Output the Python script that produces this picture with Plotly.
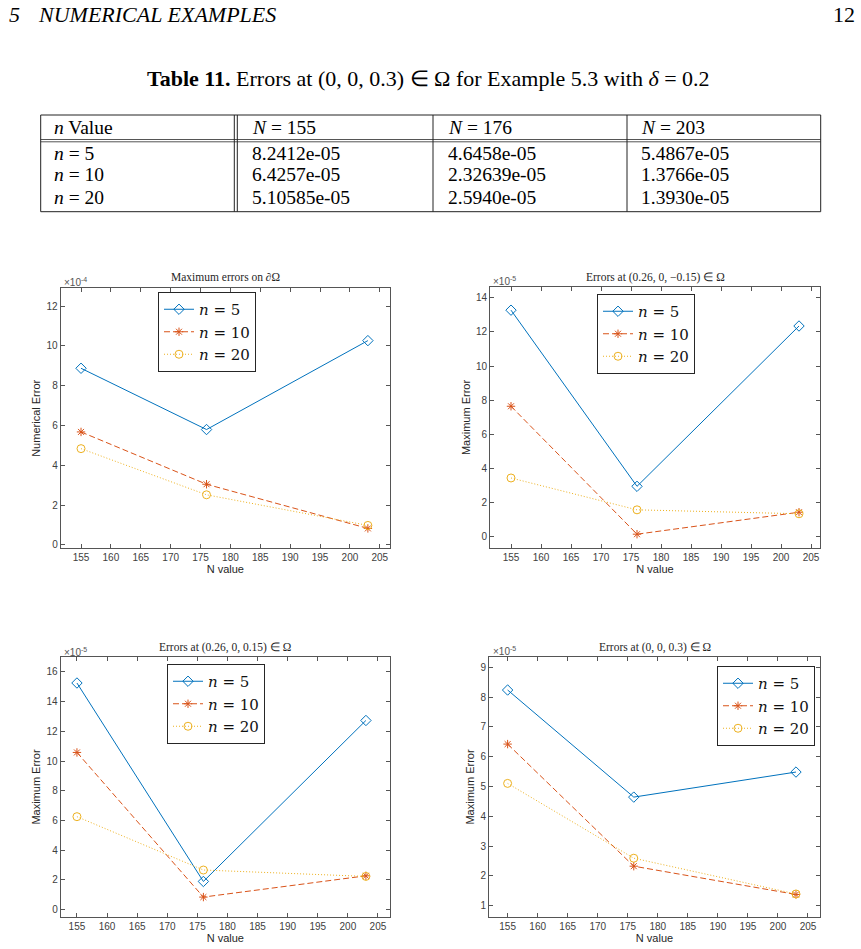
import plotly.graph_objects as go

W, H = 861, 949

# table 11: errors at (0, 0, 0.3)
table_cols = ["<i>n</i> Value", "<i>N</i> = 155", "<i>N</i> = 176", "<i>N</i> = 203"]
table_rows = ["<i>n</i> = 5", "<i>n</i> = 10", "<i>n</i> = 20"]
table_n5 = ["8.2412e-05", "4.6458e-05", "5.4867e-05"]
table_n10 = ["6.4257e-05", "2.32639e-05", "1.3766e-05"]
table_n20 = ["5.10585e-05", "2.5940e-05", "1.3930e-05"]

N_values = [155, 176, 203]
series_names = ["<i>n</i> = 5", "<i>n</i> = 10", "<i>n</i> = 20"]

# maximum errors on boundary (x 1e-4)
bnd_n5 = [8.88, 5.80, 10.27]
bnd_n10 = [5.68, 3.05, 0.83]
bnd_n20 = [4.84, 2.52, 0.98]

# errors at (0.26, 0, -0.15) (x 1e-5)
p1_n5 = [13.28, 2.94, 12.35]
p1_n10 = [7.64, 0.13, 1.42]
p1_n20 = [3.43, 1.56, 1.33]

# errors at (0.26, 0, 0.15) (x 1e-5)
p2_n5 = [15.25, 1.90, 12.73]
p2_n10 = [10.58, 0.85, 2.28]
p2_n20 = [6.26, 2.67, 2.24]

# errors at (0, 0, 0.3) (x 1e-5), same numbers as the table
p3_n5 = [float(s) * 1e5 for s in table_n5]
p3_n10 = [float(s) * 1e5 for s in table_n10]
p3_n20 = [float(s) * 1e5 for s in table_n20]

x_ticks = [155, 160, 165, 170, 175, 180, 185, 190, 195, 200, 205]

SERIF = "Liberation Serif, Times New Roman, serif"
SANS = "Liberation Sans, Arial, sans-serif"
colors = ["#0072BD", "#D95319", "#EDB120"]
symbols = ["diamond-open", "asterisk-open", "circle-open"]
dashes = ["solid", "6px,3px", "1px,2px"]


def px(x):
    return x / W


def py(y):
    return 1 - y / H


def note(text, x, y, size, family=SERIF, color="black", xanchor="left"):
    return dict(text=text, x=px(x), y=py(y), xref="paper", yref="paper",
                xanchor=xanchor, yanchor="middle", showarrow=False,
                font=dict(family=family, size=size, color=color))


panels = [
    dict(box=(60.7, 390, 288.3, 548.3), xr=[151.6, 206.7], yr=[-0.17, 12.9],
         yt=list(range(0, 13, 2)), data=[bnd_n5, bnd_n10, bnd_n20],
         title="Maximum errors on ∂Ω", ylab="Numerical Error", exp="-4",
         legend=(158, 292), exp_pos=(62, 282), title_y=277),
    dict(box=(490, 820, 287, 548), xr=[151.5, 206.5], yr=[-0.68, 14.64],
         yt=list(range(0, 15, 2)), data=[p1_n5, p1_n10, p1_n20],
         title="Errors at (0.26, 0, −0.15) ∈ Ω", ylab="Maximum Error", exp="-5",
         legend=(597, 294), exp_pos=(491, 281), title_y=277),
    dict(box=(60.7, 390, 657, 917), xr=[152.3, 207.0], yr=[-0.49, 17.0],
         yt=list(range(0, 17, 2)), data=[p2_n5, p2_n10, p2_n20],
         title="Errors at (0.26, 0, 0.15) ∈ Ω", ylab="Maximum Error", exp="-5",
         legend=(167, 664), exp_pos=(62, 652), title_y=647),
    dict(box=(489, 820, 657, 917), xr=[151.9, 207.0], yr=[0.62, 9.35],
         yt=list(range(1, 10)), data=[p3_n5, p3_n10, p3_n20],
         title="Errors at (0, 0, 0.3) ∈ Ω", ylab="Maximum Error", exp="-5",
         legend=(717, 666), exp_pos=(491, 651), title_y=647),
]

fig = go.Figure()
annotations = []
shapes = []
layout = {}

for i, p in enumerate(panels):
    k = "" if i == 0 else str(i + 1)
    lg = "legend" if i == 0 else f"legend{i + 1}"
    for j in range(3):
        fig.add_trace(go.Scatter(
            x=N_values, y=p["data"][j], name=series_names[j],
            mode="lines+markers", xaxis="x" + k, yaxis="y" + k, legend=lg,
            line=dict(color=colors[j], width=1, dash=dashes[j]),
            marker=dict(symbol=symbols[j], size=8 if j != 1 else 7,
                        color=colors[j], line=dict(width=1, color=colors[j])),
        ))
    x0, x1, y0, y1 = p["box"]
    axis_common = dict(showline=True, linecolor="#555", linewidth=1, mirror="ticks",
                       ticks="inside", ticklen=4, tickcolor="#555", showgrid=False,
                       zeroline=False, automargin=False,
                       tickfont=dict(family=SANS, size=10, color="#404040"))
    layout["xaxis" + k] = dict(
        axis_common, domain=[px(x0), px(x1)], range=p["xr"], tickvals=x_ticks,
        anchor="y" + k,
        title=dict(text="N value", standoff=0, font=dict(family=SANS, size=11, color="#262626")))
    layout["yaxis" + k] = dict(
        axis_common, domain=[py(y1), py(y0)], range=p["yr"], tickvals=p["yt"],
        anchor="x" + k,
        title=dict(text=p["ylab"], standoff=3, font=dict(family=SANS, size=11, color="#262626")))
    lx, ly = p["legend"]
    layout[lg] = dict(
        x=px(lx), y=py(ly), xanchor="left", yanchor="top", xref="paper", yref="paper",
        bgcolor="white", bordercolor="#262626", borderwidth=1, itemwidth=30,
        font=dict(family="DejaVu Serif, serif", size=15, color="#111"), tracegroupgap=0)
    annotations.append(note(p["title"], (x0 + x1) / 2, p["title_y"], 11.5,
                            color="#262626", xanchor="center"))
    ex, ey = p["exp_pos"]
    annotations.append(note("×10<sup>" + p["exp"] + "</sup>", ex, ey, 10,
                            family=SANS, color="#555"))

# page header and caption
annotations += [
    note("<i>5</i>", 7, 14, 22),
    note("<i>NUMERICAL EXAMPLES</i>", 36, 14, 22),
    note("12", 857, 14, 22, xanchor="right"),
    note("<b>Table 11.</b> Errors at (0, 0, 0.3) ∈ Ω for Example 5.3 with <i>δ</i> = 0.2",
         428, 79, 22, xanchor="center"),
]

# table text
col_x = [52, 250, 446, 639]
row_y = [127, 153, 175, 197]
cells = [table_cols] + [[table_rows[r]] + [table_n5, table_n10, table_n20][r] for r in range(3)]
for r, row in enumerate(cells):
    for c, txt in enumerate(row):
        annotations.append(note(txt, col_x[c], row_y[r], 19.5))

# table rules
tl, tr, tt, tb = 40.7, 820.7, 115, 211.7
for y, c in [(tt, "#222"), (139.5, "#555"), (141.8, "#555"), (tb, "#222")]:
    shapes.append(dict(type="line", xref="paper", yref="paper", x0=px(tl), x1=px(tr),
                       y0=py(y), y1=py(y), line=dict(color=c, width=1)))
for x in [tl, 234.3, 237.3, 433, 627, tr]:
    shapes.append(dict(type="line", xref="paper", yref="paper", x0=px(x), x1=px(x),
                       y0=py(tt), y1=py(tb), line=dict(color="#222", width=1)))

fig.update_layout(
    width=W, height=H, margin=dict(l=0, r=0, t=0, b=0),
    paper_bgcolor="white", plot_bgcolor="white", template="none",
    annotations=annotations, shapes=shapes, **layout,
)

# the page body has a default 8px margin; drop it so the figure sits at the corner
fig.write_html("out.html", config={"displayModeBar": False},
               post_script="document.body.style.margin = '0';")
